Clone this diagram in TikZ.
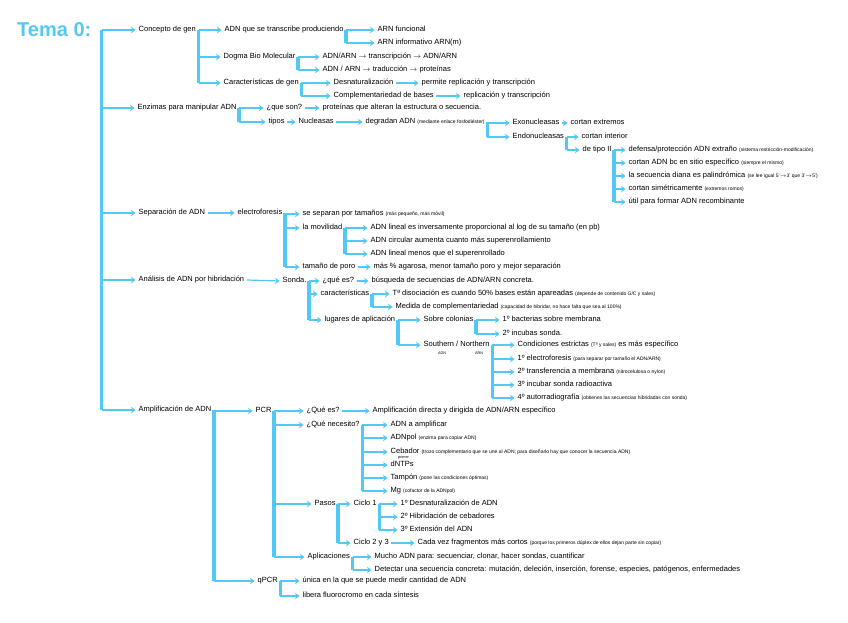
\documentclass[tikz,border=0pt]{standalone}
\usepackage{fontspec}
\setmainfont{Liberation Sans}
\usetikzlibrary{arrows.meta}
\definecolor{celeste}{RGB}{84,200,245}
\newcommand{\pnote}[1]{{\fontsize{5}{6}\selectfont #1}}

\begin{document}
\begin{tikzpicture}[x=1pt,y=-1pt,
  txt/.style={anchor=west, inner xsep=2.5pt, inner ysep=1pt, text height=5.5pt, text depth=1.6pt, font=\fontsize{7.5}{9}\selectfont},
  subtxt/.style={anchor=west, inner sep=0pt, font=\fontsize{3.8}{4}\selectfont},
  bar/.style={draw=celeste, line width=3.5pt},
  arr/.style={draw=celeste, line width=1.2pt, -{Stealth[length=4.5pt,width=6.5pt,inset=1.5pt]}, shorten >=0.5pt}]

\path[fill=white] (0,0) rectangle (848,622);

\node[anchor=west, inner sep=0pt, text=celeste, font=\fontsize{20}{22}\selectfont\bfseries] (tema) at (17,30) {Tema 0:};
\coordinate (sp) at ([xshift=10pt]tema.east);

% concepto de gen
\node[txt] (con) at (136,30) {Concepto de gen};
\node[txt] (adn) at (222,30) {ADN que se transcribe produciendo};
\node[txt] (dog) at (221,57) {Dogma Bio Molecular};
\node[txt] (car) at (221,83) {Características de gen};
\node[txt] (arnf) at (375,30) {ARN funcional};
\node[txt] (arni) at (375,43) {ARN informativo ARN(m)};
\node[txt] (tra) at (320,57) {ADN/ARN $\rightarrow$ transcripción $\rightarrow$ ADN/ARN};
\node[txt] (trd) at (320,70) {ADN / ARN $\rightarrow$ traducción $\rightarrow$ proteínas};
\node[txt] (des) at (331,83) {Desnaturalización};
\node[txt] (per) at (419,83) {permite replicación y transcripción};
\node[txt] (com) at (331,96) {Complementariedad de bases};
\node[txt] (rep) at (461,96) {replicación y transcripción};

% enzimas
\node[txt] (enz) at (135,108) {Enzimas para manipular ADN};
\node[txt] (que) at (264,108) {¿que son?};
\node[txt] (pro) at (320,108) {proteínas que alteran la estructura o secuencia.};
\node[txt] (tip) at (266,122) {tipos};
\node[txt] (nuc) at (296,122) {Nucleasas};
\node[txt] (deg) at (363,122) {degradan ADN \pnote{(mediante enlace fosfodiéster)}};
\node[txt] (exo) at (510,123) {Exonucleasas};
\node[txt] (cex) at (568,123) {cortan extremos};
\node[txt] (endo) at (510,137) {Endonucleasas};
\node[txt] (cin) at (579,137) {cortan interior};
\node[txt] (dt2) at (580,150) {de tipo II};
\node[txt] (t1) at (626,150) {defensa/protección ADN extraño \pnote{(sistema restricción-modificación)}};
\node[txt] (t2) at (626,163) {cortan ADN bc en sitio específico \pnote{(siempre el mismo)}};
\node[txt] (t3) at (626,176) {la secuencia diana es palindrómica \pnote{(se lee igual 5'$\rightarrow$3' que 3'$\rightarrow$5')}};
\node[txt] (t4) at (626,189) {cortan simétricamente \pnote{(extremos romos)}};
\node[txt] (t5) at (626,202) {útil para formar ADN recombinante};

% separacion
\node[txt] (sep) at (136,213) {Separación de ADN};
\node[txt] (ele) at (235,213) {electroforesis};
\node[txt] (stm) at (300,214) {se separan por tamaños \pnote{(más pequeño, más móvil)}};
\node[txt] (mov) at (300,228) {la movilidad};
\node[txt] (por) at (300,267) {tamaño de poro};
\node[txt] (aga) at (371,267) {más \% agarosa, menor tamaño poro y mejor separación};
\node[txt] (m1) at (368,228) {ADN lineal es inversamente proporcional al log de su tamaño (en pb)};
\node[txt] (m2) at (368,241) {ADN circular aumenta cuanto más superenrollamiento};
\node[txt] (m3) at (368,254) {ADN lineal menos que el superenrollado};

% hibridacion
\node[txt] (ana) at (136,280) {Análisis de ADN por hibridación};
\node[txt] (son) at (280,281) {Sonda.};
\node[txt] (qes) at (320,281) {¿qué es?};
\node[txt] (bus) at (369,281) {búsqueda de secuencias de ADN/ARN concreta.};
\node[txt] (cac) at (318,294) {características};
\node[txt] (lug) at (322,320) {lugares de aplicación};
\node[txt] (td) at (390,294) {Tª disociación es cuando 50\% bases están apareadas \pnote{(depende de contenido G/C y sales)}};
\node[txt] (mc) at (393,307) {Medida de complementariedad \pnote{(capacidad de hibridar, no hace falta que sea al 100\%)}};
\node[txt] (col) at (421,320) {Sobre colonias};
\node[txt] (sn) at (421,345) {Southern / Northern};
\node[subtxt] (snd) at (438,353) {ADN};
\node[subtxt] (snr) at (475,353) {ARN};
\node[txt] (c1) at (500,320) {1º bacterias sobre membrana};
\node[txt] (c2) at (500,334) {2º incubas sonda.};
\node[txt] (s0) at (515,345) {Condiciones estrictas \pnote{(Tª y sales)} es más específico};
\node[txt] (s1) at (515,359) {1º electroforesis \pnote{(para separar por tamaño el ADN/ARN)}};
\node[txt] (s2) at (515,372) {2º transferencia a membrana \pnote{(nitrocelulosa o nylon)}};
\node[txt] (s3) at (515,385) {3º incubar sonda radioactiva};
\node[txt] (s4) at (515,398) {4º autorradiografía \pnote{(obtienes las secuencias hibridadas con sonda)}};

% amplificacion
\node[txt] (amp) at (136,410) {Amplificación de ADN};
\node[txt] (pcr) at (253,411) {PCR};
\node[txt] (qpc) at (255,581) {qPCR};
\node[txt] (pq) at (304,411) {¿Qué es?};
\node[txt] (pa) at (370,411) {Amplificación directa y dirigida de ADN/ARN específico};
\node[txt] (pn) at (304,425) {¿Qué necesito?};
\node[txt] (pp) at (312,504) {Pasos};
\node[txt] (pap) at (305,557) {Aplicaciones};
\node[txt] (n1) at (388,425) {ADN a amplificar};
\node[txt] (n2) at (388,438) {ADNpol \pnote{(enzima para copiar ADN)}};
\node[txt] (n3) at (388,452) {Cebador \pnote{(trozo complementario que se une al ADN; para diseñarlo hay que conocer la secuencia ADN)}};
\node[subtxt] (pri) at (398,458) {primer};
\node[txt] (n4) at (388,465) {dNTPs};
\node[txt] (n5) at (388,478) {Tampón \pnote{(pone las condiciones óptimas)}};
\node[txt] (n6) at (388,491) {Mg \pnote{(cofactor de la ADNpol)}};
\node[txt] (cy1) at (351,504) {Ciclo 1};
\node[txt] (cy2) at (351,543) {Ciclo 2 y 3};
\node[txt] (cv) at (415,543) {Cada vez fragmentos más cortos \pnote{(porque los primeros dúplex de ellos dejan parte sin copiar)}};
\node[txt] (p1) at (398,504) {1º Desnaturalización de ADN};
\node[txt] (p2) at (398,517) {2º Hibridación de cebadores};
\node[txt] (p3) at (398,530) {3º Extensión del ADN};
\node[txt] (a1) at (372,557) {Mucho ADN para: secuenciar, clonar, hacer sondas, cuantificar};
\node[txt] (a2) at (372,570) {Detectar una secuencia concreta: mutación, deleción, inserción, forense, especies, patógenos, enfermedades};
\node[txt] (q1) at (300,581) {única en la que se puede medir cantidad de ADN};
\node[txt] (q2) at (300,596) {libera fluorocromo en cada síntesis};

% main spine
\draw[bar] (sp) -- (sp |- amp.west);
\draw[arr] (sp |- con.west) -- (con.west);
\draw[arr] (sp |- enz.west) -- (enz.west);
\draw[arr] (sp |- sep.west) -- (sep.west);
\draw[arr] (sp |- ana.west) -- (ana.west);
\draw[arr] (sp |- amp.west) -- (amp.west);

% brackets
\draw[bar] (con.east) -- (con.east |- car.west);
\draw[arr] (con.east |- adn.west) -- (adn.west);
\draw[arr] (con.east |- dog.west) -- (dog.west);
\draw[arr] (con.east |- car.west) -- (car.west);

\draw[bar] (adn.east) -- (adn.east |- arni.west);
\draw[arr] (adn.east |- arnf.west) -- (arnf.west);
\draw[arr] (adn.east |- arni.west) -- (arni.west);

\draw[bar] (dog.east) -- (dog.east |- trd.west);
\draw[arr] (dog.east |- tra.west) -- (tra.west);
\draw[arr] (dog.east |- trd.west) -- (trd.west);

\draw[bar] (car.east) -- (car.east |- com.west);
\draw[arr] (car.east |- des.west) -- (des.west);
\draw[arr] (car.east |- com.west) -- (com.west);
\draw[arr] (des.east) -- (per.west);
\draw[arr] (com.east) -- (rep.west);

\draw[bar] (enz.east) -- (enz.east |- tip.west);
\draw[arr] (enz.east |- que.west) -- (que.west);
\draw[arr] (enz.east |- tip.west) -- (tip.west);
\draw[arr] (que.east) -- (pro.west);
\draw[arr] (tip.east) -- (nuc.west);
\draw[arr] (nuc.east) -- (deg.west);

\draw[bar] (deg.east) -- (deg.east |- endo.west);
\draw[arr] (deg.east |- exo.west) -- (exo.west);
\draw[arr] (deg.east |- endo.west) -- (endo.west);
\draw[arr] (exo.east) -- (cex.west);

\draw[bar] (endo.east) -- (endo.east |- dt2.west);
\draw[arr] (endo.east |- cin.west) -- (cin.west);
\draw[arr] (endo.east |- dt2.west) -- (dt2.west);

\draw[bar] (dt2.east) -- (dt2.east |- t5.west);
\draw[arr] (dt2.east |- t1.west) -- (t1.west);
\draw[arr] (dt2.east |- t2.west) -- (t2.west);
\draw[arr] (dt2.east |- t3.west) -- (t3.west);
\draw[arr] (dt2.east |- t4.west) -- (t4.west);
\draw[arr] (dt2.east |- t5.west) -- (t5.west);

\draw[arr] (sep.east) -- (ele.west);
\draw[bar] (ele.east) -- (ele.east |- por.west);
\draw[arr] (ele.east |- stm.west) -- (stm.west);
\draw[arr] (ele.east |- mov.west) -- (mov.west);
\draw[arr] (ele.east |- por.west) -- (por.west);
\draw[arr] (por.east) -- (aga.west);

\draw[bar] (mov.east) -- (mov.east |- m3.west);
\draw[arr] (mov.east |- m1.west) -- (m1.west);
\draw[arr] (mov.east |- m2.west) -- (m2.west);
\draw[arr] (mov.east |- m3.west) -- (m3.west);

\draw[arr] (ana.east) -- (son.west);
\draw[bar] (son.east) -- (son.east |- lug.west);
\draw[arr] (son.east |- qes.west) -- (qes.west);
\draw[arr] (son.east |- cac.west) -- (cac.west);
\draw[arr] (son.east |- lug.west) -- (lug.west);
\draw[arr] (qes.east) -- (bus.west);

\draw[bar] (cac.east) -- (cac.east |- mc.west);
\draw[arr] (cac.east |- td.west) -- (td.west);
\draw[arr] (cac.east |- mc.west) -- (mc.west);

\draw[bar] (lug.east) -- (lug.east |- sn.west);
\draw[arr] (lug.east |- col.west) -- (col.west);
\draw[arr] (lug.east |- sn.west) -- (sn.west);

\draw[bar] (col.east) -- (col.east |- c2.west);
\draw[arr] (col.east |- c1.west) -- (c1.west);
\draw[arr] (col.east |- c2.west) -- (c2.west);

\draw[bar] (sn.east) -- (sn.east |- s4.west);
\draw[arr] (sn.east |- s0.west) -- (s0.west);
\draw[arr] (sn.east |- s1.west) -- (s1.west);
\draw[arr] (sn.east |- s2.west) -- (s2.west);
\draw[arr] (sn.east |- s3.west) -- (s3.west);
\draw[arr] (sn.east |- s4.west) -- (s4.west);

\draw[bar] (amp.east) -- (amp.east |- qpc.west);
\draw[arr] (amp.east |- pcr.west) -- (pcr.west);
\draw[arr] (amp.east |- qpc.west) -- (qpc.west);

\draw[bar] (pcr.east) -- (pcr.east |- pap.west);
\draw[arr] (pcr.east |- pq.west) -- (pq.west);
\draw[arr] (pcr.east |- pn.west) -- (pn.west);
\draw[arr] (pcr.east |- pp.west) -- (pp.west);
\draw[arr] (pcr.east |- pap.west) -- (pap.west);
\draw[arr] (pq.east) -- (pa.west);

\draw[bar] (pn.east) -- (pn.east |- n6.west);
\draw[arr] (pn.east |- n1.west) -- (n1.west);
\draw[arr] (pn.east |- n2.west) -- (n2.west);
\draw[arr] (pn.east |- n3.west) -- (n3.west);
\draw[arr] (pn.east |- n4.west) -- (n4.west);
\draw[arr] (pn.east |- n5.west) -- (n5.west);
\draw[arr] (pn.east |- n6.west) -- (n6.west);

\draw[bar] (pp.east) -- (pp.east |- cy2.west);
\draw[arr] (pp.east |- cy1.west) -- (cy1.west);
\draw[arr] (pp.east |- cy2.west) -- (cy2.west);
\draw[arr] (cy2.east) -- (cv.west);

\draw[bar] (cy1.east) -- (cy1.east |- p3.west);
\draw[arr] (cy1.east |- p1.west) -- (p1.west);
\draw[arr] (cy1.east |- p2.west) -- (p2.west);
\draw[arr] (cy1.east |- p3.west) -- (p3.west);

\draw[bar] (pap.east) -- (pap.east |- a2.west);
\draw[arr] (pap.east |- a1.west) -- (a1.west);
\draw[arr] (pap.east |- a2.west) -- (a2.west);

\draw[bar] (qpc.east) -- (qpc.east |- q2.west);
\draw[arr] (qpc.east |- q1.west) -- (q1.west);
\draw[arr] (qpc.east |- q2.west) -- (q2.west);

\end{tikzpicture}
\end{document}
